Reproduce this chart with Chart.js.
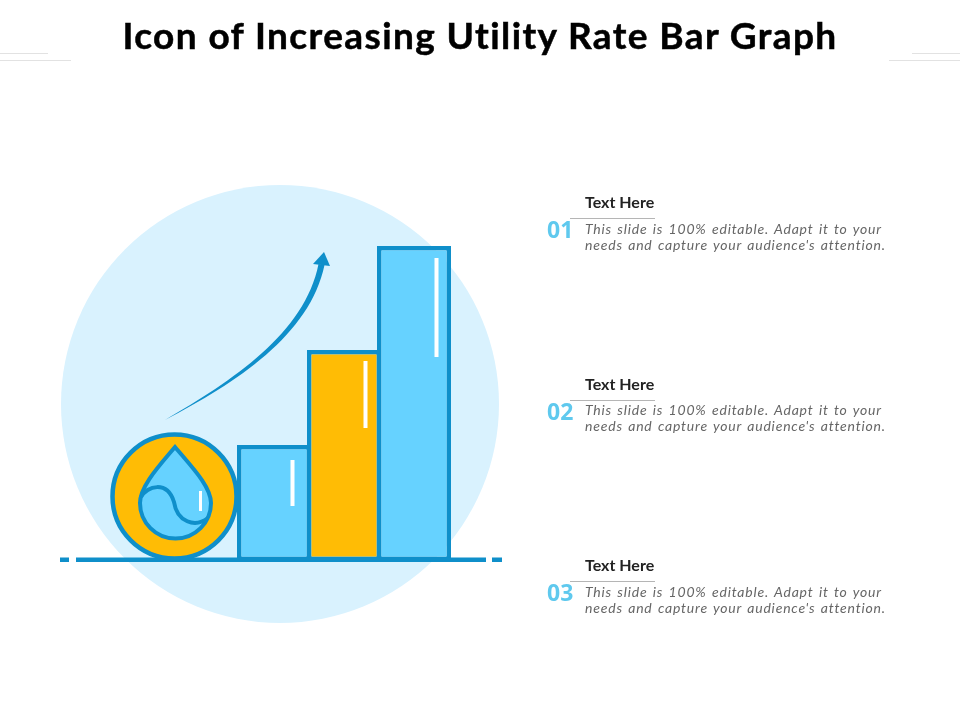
<!DOCTYPE html>
<html>
<head>
<meta charset="utf-8">
<title>Icon of Increasing Utility Rate Bar Graph</title>
<script src="https://cdn.jsdelivr.net/npm/chart.js@4"></script>
<style>
  body { margin: 0; background: #fff; overflow: hidden; }
  #wrap { position: relative; width: 960px; height: 720px; }
  #wrap div { position: absolute; white-space: nowrap; }
  #title { left: 0; width: 960px; top: 12px; text-align: center; font: 700 37px Lato, sans-serif; letter-spacing: 1.4px; color: #000; -webkit-text-stroke: 0.5px #000; }
  .deco { height: 1px; background: #e2e2e2; }
  .num { left: 547px; font: 700 23px "Open Sans", sans-serif; color: #5fc9ee; line-height: 24px; }
  .head { left: 585px; font: 700 16px Lato, sans-serif; color: #222; line-height: 18px; }
  .rule { left: 570px; width: 85px; height: 1px; background: #b5b5b5; }
  .body { left: 585px; font: italic 14px Lato, sans-serif; color: #666; line-height: 16px; letter-spacing: 0.8px; word-spacing: 1.3px; }
</style>
</head>
<body>
<div id="wrap">
  <canvas id="chart" width="960" height="720"></canvas>
  <div id="title">Icon of Increasing Utility Rate Bar Graph</div>
</div>

<script>
// ---- Chart data ----
const categories = ["Bar 1", "Bar 2", "Bar 3"];
const barValues = [36.8, 67, 100];
const blockNumbers = ["01", "02", "03"];
const blockHeadings = ["Text Here", "Text Here", "Text Here"];
const bodyFirstLines = [
  "This slide is 100% editable. Adapt it to your",
  "This slide is 100% editable. Adapt it to your",
  "This slide is 100% editable. Adapt it to your"
];
const bodySecondLines = [
  "needs and capture your audience's attention.",
  "needs and capture your audience's attention.",
  "needs and capture your audience's attention."
];

const STROKE = "#0f8fca";
const BLUE = "#66d2ff";
const YELLOW = "#ffbc05";
const BACKDROP = "#d9f2fe";

// Circle sitting behind the bars
const backdropPlugin = {
  id: "backdrop",
  beforeDatasetsDraw(chart) {
    const ctx = chart.ctx;
    ctx.save();
    ctx.fillStyle = BACKDROP;
    ctx.beginPath();
    ctx.arc(280, 404, 219, 0, Math.PI * 2);
    ctx.fill();
    ctx.restore();
  }
};

// Drop icon, arrow, ground line and the white glints
const iconPlugin = {
  id: "icon",
  afterDatasetsDraw(chart) {
    const ctx = chart.ctx;
    ctx.save();

    // yellow badge
    ctx.fillStyle = YELLOW;
    ctx.strokeStyle = STROKE;
    ctx.lineWidth = 4.5;
    ctx.beginPath();
    ctx.arc(174.5, 496.5, 62, 0, Math.PI * 2);
    ctx.fill();
    ctx.stroke();

    // water drop
    ctx.fillStyle = BLUE;
    ctx.lineWidth = 4;
    ctx.lineJoin = "miter";
    ctx.beginPath();
    ctx.moveTo(175, 447);
    ctx.bezierCurveTo(160, 465, 140, 486, 140, 503);
    ctx.arc(175.5, 503, 35.5, Math.PI, 0, true);
    ctx.bezierCurveTo(211, 486, 190, 465, 175, 447);
    ctx.closePath();
    ctx.fill();
    ctx.stroke();

    // wave inside the drop
    ctx.beginPath();
    ctx.moveTo(141, 497);
    ctx.bezierCurveTo(147, 486, 167, 480, 174, 502);
    ctx.bezierCurveTo(177, 522, 195, 528, 208, 518);
    ctx.stroke();

    // arrow
    ctx.fillStyle = STROKE;
    ctx.beginPath();
    ctx.moveTo(165, 420);
    ctx.bezierCurveTo(232, 381, 305, 333, 318.5, 264);
    ctx.lineTo(324.5, 265);
    ctx.bezierCurveTo(310, 335, 236, 383, 165, 420);
    ctx.closePath();
    ctx.fill();
    ctx.beginPath();
    ctx.moveTo(324, 252);
    ctx.lineTo(330, 266);
    ctx.lineTo(313, 264);
    ctx.closePath();
    ctx.fill();

    // ground line
    ctx.fillRect(76, 557.5, 410, 4.5);
    ctx.fillRect(60, 557.5, 9, 4.5);
    ctx.fillRect(492, 557.5, 10, 4.5);

    // glints
    ctx.fillStyle = "#fff";
    ctx.fillRect(290.5, 460, 4, 46);
    ctx.fillRect(363.5, 361, 4, 67);
    ctx.fillRect(434.5, 258, 4, 99);
    ctx.fillRect(199, 491, 3, 20);

    ctx.restore();
  }
};

new Chart(document.getElementById("chart").getContext("2d"), {
  type: "bar",
  data: {
    labels: categories,
    datasets: [
      {
        data: barValues,
        backgroundColor: [BLUE, YELLOW, BLUE],
        borderColor: STROKE,
        borderWidth: 4.5,
        borderSkipped: false,
        barPercentage: 1.057,
        categoryPercentage: 1,
        clip: false
      }
    ]
  },
  options: {
    responsive: false,
    animation: false,
    layout: { padding: { left: 239, right: 511, top: 246, bottom: 159 } },
    plugins: { legend: { display: false }, tooltip: { enabled: false } },
    scales: {
      x: { display: false },
      y: { display: false, min: 0, max: 100 }
    }
  },
  plugins: [backdropPlugin, iconPlugin]
});

// ---- Text blocks and thin lines ----
const wrap = document.getElementById("wrap");

function addDiv(className, styleText, text) {
  const el = document.createElement("div");
  el.className = className;
  el.style.cssText = styleText;
  if (text) el.textContent = text;
  wrap.appendChild(el);
}

addDiv("deco", "left:0;top:53px;width:48px");
addDiv("deco", "left:0;top:60px;width:71px");
addDiv("deco", "left:912px;top:53px;width:48px");
addDiv("deco", "left:889px;top:60px;width:71px");

const blockTops = [193, 375, 556];
const bodyTops = [221, 402, 584];
blockNumbers.forEach((num, i) => {
  const top = blockTops[i];
  addDiv("head", `top:${top}px`, blockHeadings[i]);
  addDiv("rule", `top:${top + 25}px`);
  addDiv("num", `top:${top + 24}px`, num);
  addDiv("body", `top:${bodyTops[i]}px`, bodyFirstLines[i]);
  addDiv("body", `top:${bodyTops[i] + 16}px`, bodySecondLines[i]);
});
</script>
</body>
</html>
